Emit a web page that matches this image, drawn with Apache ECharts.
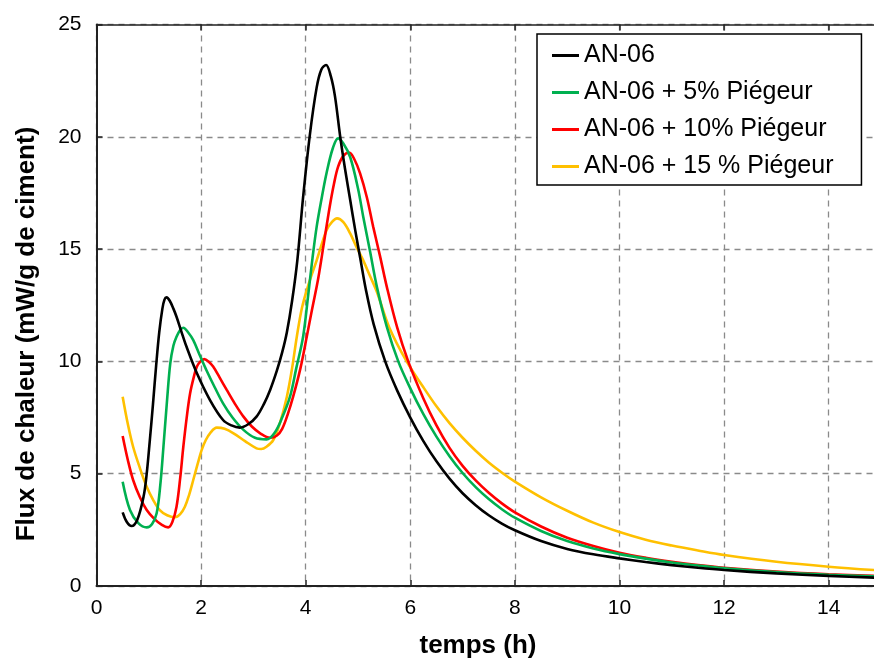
<!DOCTYPE html>
<html>
<head>
<meta charset="utf-8">
<script src="https://cdn.jsdelivr.net/npm/echarts@6/dist/echarts.min.js"></script>
<style>html,body{margin:0;padding:0;background:#fff;}#c{width:874px;height:660px;}</style>
</head>
<body>
<div id="c"></div>
<script>
var seriesNames = ['AN-06', 'AN-06 + 5% Piégeur', 'AN-06 + 10% Piégeur', 'AN-06 + 15 % Piégeur'];
var xTicks = [0, 2, 4, 6, 8, 10, 12, 14];
var yTicks = [0, 5, 10, 15, 20, 25];

var an06 = [[0.5,3.28],[0.58,2.85],[0.67,2.67],[0.78,2.95],[0.9,3.98],[0.96,5.0],[1.02,6.5],[1.08,8.1],[1.14,9.8],[1.2,11.3],[1.26,12.35],[1.3,12.75],[1.34,12.85],[1.4,12.7],[1.47,12.35],[1.53,11.99],[1.62,11.35],[1.72,10.66],[1.92,9.47],[2.17,8.28],[2.42,7.39],[2.58,7.15],[2.74,7.05],[2.9,7.2],[3.06,7.54],[3.2,8.1],[3.32,8.73],[3.45,9.6],[3.55,10.4],[3.64,11.3],[3.74,12.7],[3.84,14.5],[3.95,17.3],[4.08,20.1],[4.21,22.2],[4.3,23.0],[4.39,23.2],[4.48,22.7],[4.56,21.8],[4.66,20.0],[4.75,18.6],[4.85,17.2],[4.95,15.8],[5.05,14.5],[5.15,13.2],[5.3,11.65],[5.52,10.0],[5.75,8.7],[6.0,7.5],[6.25,6.45],[6.5,5.55],[6.75,4.78],[7.0,4.13],[7.25,3.6],[7.5,3.15],[7.75,2.78],[8.0,2.48],[8.5,2.0],[9.0,1.65],[9.5,1.41],[10,1.23],[10.5,1.07],[11,0.93],[11.5,0.81],[12,0.71],[13,0.56],[14,0.45],[15,0.36]];
var an06p5 = [[0.5,4.64],[0.64,3.38],[0.8,2.8],[0.96,2.61],[1.06,2.75],[1.15,3.24],[1.22,4.5],[1.28,6.2],[1.35,8.3],[1.41,9.9],[1.47,10.7],[1.53,11.1],[1.6,11.4],[1.66,11.5],[1.75,11.3],[1.85,10.95],[1.97,10.3],[2.1,9.62],[2.26,8.85],[2.42,8.13],[2.6,7.5],[2.81,6.95],[3.03,6.6],[3.25,6.53],[3.4,6.8],[3.55,7.5],[3.7,8.43],[3.82,9.7],[3.95,11.1],[4.05,13.0],[4.13,14.6],[4.21,16.0],[4.3,17.2],[4.4,18.4],[4.52,19.5],[4.62,19.93],[4.72,19.7],[4.85,19.1],[5.0,17.7],[5.1,16.44],[5.23,14.9],[5.36,13.33],[5.55,11.55],[5.77,10.0],[6.0,8.8],[6.25,7.65],[6.5,6.65],[6.75,5.78],[7.0,5.03],[7.25,4.4],[7.5,3.87],[7.75,3.42],[8,3.04],[8.5,2.45],[9.0,2.0],[9.5,1.67],[10,1.42],[10.5,1.22],[11,1.05],[11.5,0.91],[12,0.79],[13,0.62],[14,0.5],[15,0.42]];
var an06p10 = [[0.5,6.68],[0.6,5.6],[0.7,4.72],[0.83,3.95],[0.96,3.38],[1.1,3.0],[1.25,2.72],[1.37,2.61],[1.45,2.85],[1.53,3.53],[1.6,4.8],[1.66,6.2],[1.73,7.6],[1.79,8.58],[1.86,9.3],[1.92,9.77],[1.99,10.0],[2.06,10.1],[2.14,10.0],[2.23,9.77],[2.35,9.3],[2.49,8.73],[2.65,8.1],[2.81,7.54],[2.97,7.1],[3.13,6.8],[3.32,6.6],[3.45,6.7],[3.55,7.0],[3.65,7.6],[3.76,8.43],[3.9,9.7],[4.02,11.1],[4.12,12.3],[4.24,13.7],[4.35,15.3],[4.46,16.9],[4.54,17.9],[4.62,18.67],[4.72,19.15],[4.83,19.3],[4.93,19.0],[5.04,18.37],[5.17,17.3],[5.29,16.0],[5.42,14.7],[5.55,13.33],[5.75,11.5],[5.96,10.0],[6.25,8.35],[6.5,7.15],[6.75,6.15],[7.0,5.35],[7.25,4.7],[7.5,4.15],[7.75,3.68],[8,3.28],[8.5,2.65],[9.0,2.15],[9.5,1.78],[10,1.48],[10.5,1.26],[11,1.08],[11.5,0.93],[12,0.81],[13,0.64],[14,0.52],[15,0.44]];
var an06p15 = [[0.5,8.43],[0.6,7.2],[0.7,6.2],[0.83,5.25],[0.96,4.42],[1.08,3.85],[1.21,3.38],[1.35,3.15],[1.5,3.06],[1.6,3.2],[1.69,3.53],[1.77,4.05],[1.85,4.72],[1.93,5.4],[2.01,6.05],[2.09,6.5],[2.17,6.8],[2.3,7.05],[2.45,7.0],[2.62,6.8],[2.84,6.45],[3.06,6.13],[3.15,6.1],[3.25,6.2],[3.38,6.5],[3.5,7.2],[3.64,8.43],[3.74,9.7],[3.83,11.1],[3.93,12.4],[4.05,13.4],[4.21,14.5],[4.4,15.85],[4.5,16.2],[4.6,16.37],[4.72,16.2],[4.85,15.7],[4.97,15.1],[5.1,14.5],[5.23,13.8],[5.36,13.1],[5.6,11.5],[5.93,10.0],[6.25,8.85],[6.5,8.0],[6.75,7.25],[7.0,6.6],[7.25,6.02],[7.5,5.5],[7.78,5.0],[8,4.65],[8.5,3.95],[9.0,3.35],[9.5,2.82],[10,2.4],[10.5,2.06],[11,1.8],[11.5,1.58],[12,1.38],[13,1.08],[14,0.86],[15,0.69]];

var seriesData = [an06, an06p5, an06p10, an06p15];
var colors = ['#000000', '#00B050', '#FF0000', '#FFC000'];
var FONT = 'Liberation Sans, Arial, sans-serif';

var chart = echarts.init(document.getElementById('c'), null, {renderer: 'canvas'});
var gridStyle = {show: true, lineStyle: {color: '#8a8a8a', type: [6, 5], width: 1.3}};
var option = {
  animation: false,
  backgroundColor: '#fff',
  grid: {left: 96.5, top: 24.5, width: 784.5, height: 561.5, containLabel: false, outerBoundsMode: 'none'},
  legend: {
    orient: 'vertical', left: 537, top: 34,
    padding: [9, 28, 6, 15],
    backgroundColor: '#fff', borderColor: '#000', borderWidth: 1.5, borderRadius: 0,
    itemWidth: 27, itemHeight: 3, icon: 'rect', itemGap: 12,
    textStyle: {fontSize: 25, fontFamily: FONT, color: '#000', lineHeight: 25},
    data: seriesNames
  },
  xAxis: [{
    type: 'value', min: 0, max: 15, interval: 2,
    axisLine: {show: true, lineStyle: {color: '#222', width: 2}},
    axisTick: {show: true, inside: true, length: 6, lineStyle: {color: '#222', width: 1.5}},
    axisLabel: {fontSize: 21, fontFamily: FONT, color: '#000', margin: 12,
      formatter: function (v) { return xTicks.indexOf(v) >= 0 ? String(v) : ''; }},
    splitLine: gridStyle
  }, {
    type: 'value', min: 0, max: 15, interval: 2, position: 'top',
    axisLine: {show: true, lineStyle: {color: '#222', width: 1.5}},
    axisTick: {show: true, inside: true, length: 6, lineStyle: {color: '#222', width: 1.5}},
    axisLabel: {show: false}, splitLine: {show: false}
  }],
  yAxis: {
    type: 'value', min: 0, max: 25, interval: 5,
    axisLine: {show: true, lineStyle: {color: '#222', width: 2}},
    axisTick: {show: true, inside: true, length: 6, lineStyle: {color: '#222', width: 1.5}},
    axisLabel: {fontSize: 21, fontFamily: FONT, color: '#000', margin: 15,
      formatter: function (v) { return yTicks.indexOf(v) >= 0 ? String(v) : ''; }},
    splitLine: gridStyle
  },
  graphic: [
    {type: 'text', x: 478, y: 646, style: {text: 'temps (h)', font: 'bold 26px ' + FONT, fill: '#000', textAlign: 'center', textVerticalAlign: 'middle'}},
    {type: 'text', x: 27, y: 334, rotation: Math.PI / 2, style: {text: 'Flux de chaleur (mW/g de ciment)', font: 'bold 26px ' + FONT, fill: '#000', textAlign: 'center', textVerticalAlign: 'middle'}}
  ],
  series: seriesNames.map(function (n, i) {
    return {
      name: n, type: 'line', xAxisIndex: 0, data: seriesData[i], smooth: 0.35,
      showSymbol: false, symbol: 'none', color: colors[i],
      lineStyle: {color: colors[i], width: 2.6}, z: 10 - i
    };
  })
};
chart.setOption(option);
</script>
</body>
</html>
